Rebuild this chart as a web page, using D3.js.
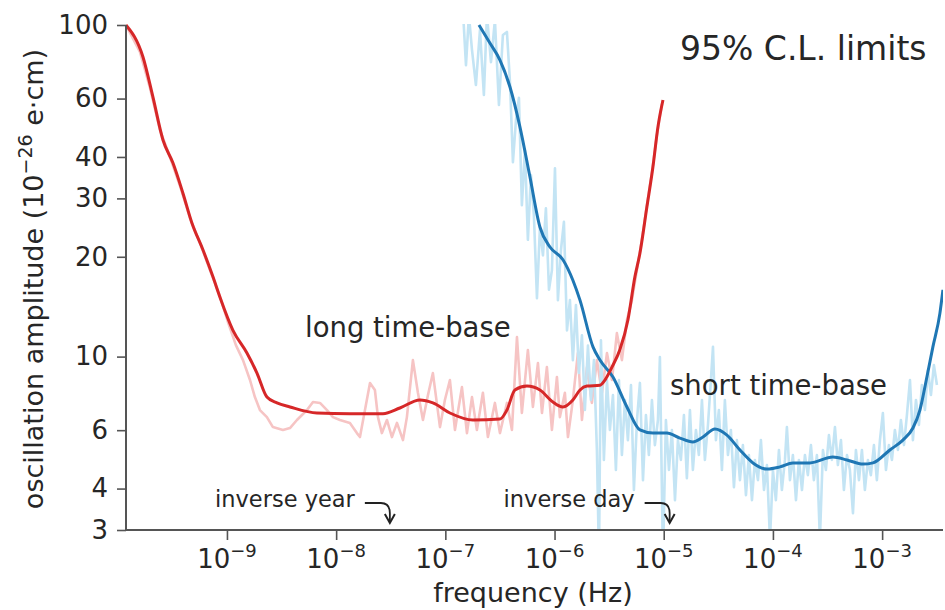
<!DOCTYPE html>
<html><head><meta charset="utf-8">
<script src="https://cdn.jsdelivr.net/npm/d3@7"></script>
<style>
body{margin:0;background:#fff}
svg{display:block}
text{font-family:"DejaVu Sans",sans-serif;fill:#262626}
</style>
</head><body>
<svg id="c" width="945" height="610"></svg>
<script>
// ---------- DATA (frequency given as log10 of Hz; amplitude in 1e-26 e·cm) ----------
const longFitLogHz = [-9.925,-9.769,-9.678,-9.586,-9.495,-9.403,-9.321,-9.220,-9.128,-9.064,
 -8.945,-8.817,-8.725,-8.634,-8.542,-8.423,-8.176,-7.874,-7.571,-7.416,
 -7.233,-7.114,-6.958,-6.747,-6.500,-6.436,-6.363,-6.253,-6.134,-6.015,
 -5.923,-5.832,-5.767,-5.703,-5.584,-5.538,-5.474,-5.401,-5.328,-5.264,
 -5.218,-5.154,-5.099,-5.053,-5.007];
const longFitAmp = [100,80.1,60.7,45.0,38.4,31.1,25.3,21.0,17.4,15.1,
 12.0,10.25,8.92,7.55,7.25,7.05,6.76,6.73,6.73,7.0,
 7.4,7.25,6.76,6.44,6.48,6.9,7.93,8.15,7.93,7.3,
 7.05,7.4,7.93,8.15,8.2,8.5,9.3,10.5,12.9,17.4,
 20.5,28.3,37.3,49.3,59.4];

const longRawLogHz = [-9.925,-9.797,-9.705,-9.614,-9.522,-9.430,-9.339,-9.247,-9.156,-9.064,
 -8.991,-8.918,-8.853,-8.789,-8.744,-8.698,-8.634,-8.579,-8.487,-8.423,
 -8.359,-8.267,-8.212,-8.148,-8.084,-8.029,-7.965,-7.874,-7.810,-7.782,
 -7.736,-7.690,-7.645,-7.617,-7.581,-7.535,-7.489,-7.443,-7.388,-7.352,
 -7.297,-7.251,-7.205,-7.159,-7.114,-7.049,-7.004,-6.958,-6.912,-6.848,
 -6.802,-6.756,-6.711,-6.656,-6.610,-6.546,-6.500,-6.436,-6.390,-6.344,
 -6.299,-6.244,-6.198,-6.152,-6.115,-6.070,-6.024,-5.978,-5.951,-5.905,
 -5.877,-5.832,-5.786,-5.749,-5.703,-5.658,-5.612,-5.566,-5.520,-5.474,
 -5.429,-5.383,-5.337,-5.291,-5.245,-5.200,-5.154,-5.108,-5.062,-5.016];
const longRawAmp = [100,82.9,64.6,48.3,40.0,32.7,26.2,22.0,18.25,15.2,
 12.7,10.83,9.76,8.50,7.55,6.90,6.57,6.13,6.01,6.09,
 6.44,6.90,7.30,7.25,6.90,6.57,6.44,6.31,5.88,5.72,
 6.90,8.32,7.93,6.57,5.88,6.44,5.72,6.31,5.60,6.57,
 9.76,7.78,6.44,7.66,8.92,6.13,7.40,8.50,6.01,8.09,
 5.88,7.55,6.01,7.78,5.72,7.25,5.88,7.25,6.01,11.45,
 6.76,10.46,7.05,9.56,6.76,9.30,6.01,8.68,6.57,7.78,
 5.72,7.40,10.25,6.44,9.30,7.25,9.76,7.78,10.25,8.50,
 11.77,9.76,12.9,14.8,18.3,22.5,28.6,36.0,46.6,57.8];

const shortFitLogHz = [-6.692,-6.592,-6.5,-6.408,-6.317,-6.225,-6.134,-6.042,-5.923,-5.832,
 -5.767,-5.648,-5.584,-5.465,-5.337,-5.218,-5.099,-4.971,-4.852,-4.733,
 -4.641,-4.531,-4.421,-4.302,-4.183,-4.055,-3.936,-3.817,-3.661,-3.451,
 -3.322,-3.176,-3.084,-2.929,-2.810,-2.718,-2.654,-2.590,-2.535,-2.471,-2.443];
const shortFitAmp = [100,88.2,78.4,65.0,49.3,34.8,24.6,21.4,19.6,17.0,
 14.8,10.7,9.76,8.68,7.05,6.01,5.88,5.88,5.68,5.53,
 5.72,6.05,5.80,5.23,4.78,4.58,4.65,4.78,4.78,4.98,
 4.88,4.74,4.78,5.23,5.60,6.09,6.90,8.68,10.7,13.5,15.9];

const shortRawLogHz = [-6.839,-6.811,-6.784,-6.756,-6.720,-6.683,-6.647,-6.619,-6.582,-6.546,
 -6.509,-6.473,-6.436,-6.408,-6.381,-6.353,-6.326,-6.299,-6.271,-6.244,
 -6.216,-6.189,-6.161,-6.134,-6.106,-6.079,-6.051,-6.024,-5.996,-5.969,
 -5.941,-5.914,-5.886,-5.859,-5.832,-5.804,-5.777,-5.749,-5.722,-5.694,
 -5.667,-5.639,-5.612,-5.593,-5.575,-5.548,-5.520,-5.493,-5.465,-5.438,
 -5.410,-5.383,-5.355,-5.328,-5.300,-5.273,-5.245,-5.218,-5.190,-5.163,
 -5.136,-5.108,-5.081,-5.053,-5.035,-5.007,-4.980,-4.952,-4.925,-4.897,
 -4.870,-4.843,-4.815,-4.788,-4.760,-4.733,-4.705,-4.678,-4.650,-4.623,
 -4.595,-4.568,-4.549,-4.522,-4.495,-4.467,-4.440,-4.412,-4.385,-4.357,
 -4.330,-4.302,-4.275,-4.247,-4.220,-4.192,-4.165,-4.137,-4.110,-4.082,
 -4.055,-4.027,-4.000,-3.973,-3.945,-3.918,-3.890,-3.872,-3.844,-3.817,
 -3.789,-3.762,-3.734,-3.707,-3.680,-3.652,-3.625,-3.597,-3.570,-3.542,
 -3.515,-3.487,-3.460,-3.432,-3.405,-3.377,-3.350,-3.322,-3.295,-3.267,
 -3.240,-3.212,-3.185,-3.158,-3.130,-3.103,-3.075,-3.048,-3.020,-2.993,
 -2.965,-2.938,-2.910,-2.883,-2.855,-2.828,-2.800,-2.773,-2.745,-2.718,
 -2.690,-2.663,-2.636,-2.608,-2.581,-2.553,-2.526,-2.498];
const shortRawAmp = [110.9,75.7,107.2,84.1,65.9,96.6,61.5,107.2,77.3,103.5,
 57.4,93.3,95.3,67.3,38.6,51.7,60.3,28.6,42.0,22.5,
 35.3,26.7,15.0,24.4,20.2,28.0,15.9,18.2,37.0,14.8,
 21.0,25.5,12.0,14.8,9.76,14.3,8.92,11.6,6.90,10.8,
 7.40,9.76,5.23,2.44,11.2,4.88,8.50,6.01,7.66,4.55,
 8.50,5.05,7.40,5.60,8.21,3.96,6.44,8.33,4.24,6.66,
 5.05,7.40,5.41,6.44,9.97,2.44,6.44,4.55,6.01,3.69,
 5.60,4.88,6.66,4.30,6.90,4.55,6.01,5.05,7.40,4.88,
 6.22,8.50,10.7,5.60,6.90,4.55,7.40,5.05,6.01,4.04,
 5.60,4.24,5.41,3.82,5.05,3.69,4.88,4.24,5.60,3.96,
 4.71,2.80,4.55,3.69,5.23,3.96,4.88,6.13,4.24,5.05,
 3.69,4.88,3.96,5.05,4.39,5.41,4.24,5.05,2.80,5.23,
 4.55,5.80,4.88,6.13,4.71,5.60,3.96,5.05,4.55,3.37,
 5.23,4.24,5.23,3.96,4.88,4.39,5.41,4.24,5.60,6.76,
 4.55,5.41,4.88,6.01,5.23,6.44,5.41,6.66,8.50,5.60,
 7.40,6.22,8.21,6.90,9.10,7.66,9.43,8.21];

const xMajorTicks = [1e-9,1e-8,1e-7,1e-6,1e-5,1e-4,1e-3];
const xMajorExp = ["−9","−8","−7","−6","−5","−4","−3"];
const yMajorTicks = [3,4,6,10,20,30,40,60,100];
const yMinorTicks = [5,7,8,9,50,70,80,90];
const markerNames = ["inverse year","inverse day"];
const markerHz = [3.17e-8, 1.157e-5];

// ---------- CHART ----------
const L=126, R=943, T=25, B=530;
const svg = d3.select("#c");
const x = d3.scaleLog().domain([1.19e-10, 3.61e-3]).range([L, R]);
const y = d3.scaleLog().domain([3, 100]).range([B, T]);

svg.append("clipPath").attr("id","clip").append("rect")
  .attr("x",L).attr("y",T-1).attr("width",R-L).attr("height",B-T+1);

const pairs = (lf, a) => lf.slice(0, Math.min(lf.length, a.length)).map((e,i)=>[Math.pow(10,e), a[i]]);
const line = d3.line().x(d=>x(d[0])).y(d=>y(d[1]));
const smooth = d3.line().x(d=>x(d[0])).y(d=>y(d[1])).curve(d3.curveMonotoneX);

const plot = svg.append("g").attr("clip-path","url(#clip)");
plot.append("path").datum(pairs(longRawLogHz,longRawAmp)).attr("d",line)
  .attr("fill","none").attr("stroke","#f6c4c4").attr("stroke-width",2.6).attr("stroke-linejoin","round");
plot.append("path").datum(pairs(shortRawLogHz,shortRawAmp)).attr("d",line)
  .attr("fill","none").attr("stroke","#c3e4f4").attr("stroke-width",2.6).attr("stroke-linejoin","round");
plot.append("path").datum(pairs(shortFitLogHz,shortFitAmp)).attr("d",smooth)
  .attr("fill","none").attr("stroke","#1f77b4").attr("stroke-width",3).attr("stroke-linejoin","round");
plot.append("path").datum(pairs(longFitLogHz,longFitAmp)).attr("d",smooth)
  .attr("fill","none").attr("stroke","#d62728").attr("stroke-width",3).attr("stroke-linejoin","round");

// axes
const axCol = "#555";
const gx = svg.append("g").attr("transform",`translate(0,${B})`);
const minorX = [];
for (let k=-10;k<=-3;k++) for (let m=2;m<=9;m++){ const v=m*Math.pow(10,k); if (v>=1.19e-10 && v<=3.61e-3) minorX.push(v); }
gx.call(d3.axisBottom(x).tickValues(minorX).tickSize(5).tickFormat(""));
gx.call(d3.axisBottom(x).tickValues(xMajorTicks).tickSize(10).tickFormat(""));
gx.selectAll(".domain").attr("stroke",axCol).attr("stroke-width",2).attr("d",`M${L},0H${R}`);
gx.selectAll(".tick line").attr("stroke",axCol).attr("stroke-width",1.6);

const xl = svg.append("g");
xMajorTicks.forEach((t,i)=>{
  const tx = xl.append("text").attr("x",x(t)).attr("y",568).attr("text-anchor","middle").style("font-size","26px");
  tx.append("tspan").text("10");
  tx.append("tspan").attr("dy",-11).style("font-size","18px").text(xMajorExp[i]);
});

const gy = svg.append("g").attr("transform",`translate(${L},0)`);
gy.call(d3.axisLeft(y).tickValues(yMinorTicks).tickSize(5).tickFormat(""));
gy.call(d3.axisLeft(y).tickValues(yMajorTicks).tickSize(9).tickPadding(9).tickFormat(d3.format("d")));
gy.selectAll(".domain").attr("stroke",axCol).attr("stroke-width",2).attr("d",`M0,${T}V${B}`);
gy.selectAll(".tick line").attr("stroke",axCol).attr("stroke-width",1.6);
gy.selectAll(".tick text").style("font-size","26px").style("font-family","'DejaVu Sans',sans-serif").attr("fill","#262626");

// axis labels
svg.append("text").attr("x",533).attr("y",602).attr("text-anchor","middle").style("font-size","27px").text("frequency (Hz)");
const yl = svg.append("text").attr("transform","translate(43,279) rotate(-90)").attr("text-anchor","middle").style("font-size","27px");
yl.append("tspan").text("oscillation amplitude (10");
yl.append("tspan").attr("dy",-11).style("font-size","19px").text("−26");
yl.append("tspan").attr("dy",11).text(" e·cm)");

// annotations
svg.append("text").attr("x",680).attr("y",60).style("font-size","33px").text("95% C.L. limits");
svg.append("text").attr("x",305).attr("y",337).style("font-size","27.5px").text("long time-base");
svg.append("text").attr("x",670).attr("y",395).style("font-size","27.5px").text("short time-base");

markerHz.forEach((f,i)=>{
  const tx = x(f);
  svg.append("text").attr("x",tx-36).attr("y",507).attr("text-anchor","end").style("font-size","22.5px").text(markerNames[i]);
  svg.append("path").attr("d",`M${tx-26},503 L${tx-10},503 Q${tx-1},503 ${tx-1},513 L${tx-1},521`)
    .attr("fill","none").attr("stroke","#222").attr("stroke-width",1.8);
  svg.append("path").attr("d",`M${tx-6},514 L${tx-1},523 L${tx+4},514`)
    .attr("fill","none").attr("stroke","#222").attr("stroke-width",2);
});
</script>
</body></html>
